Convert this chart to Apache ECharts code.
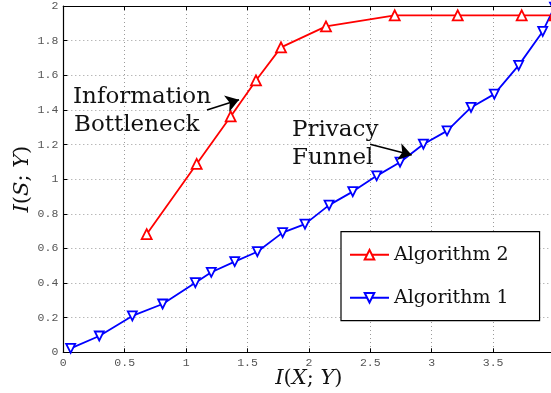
<!DOCTYPE html>
<html>
<head>
<meta charset="utf-8">
<script src="https://cdn.jsdelivr.net/npm/echarts@6/dist/echarts.min.js"></script>
<style>html,body{margin:0;padding:0;background:#fff;}#c{width:551px;height:393px;}</style>
</head>
<body>
<div id="c"></div>
<script>
// Data
var alg2X = [0.679, 1.086, 1.363, 1.569, 1.773, 2.139, 2.699, 3.212, 3.733, 4.0];
var alg2Y = [0.682, 1.088, 1.362, 1.570, 1.761, 1.882, 1.946, 1.946, 1.946, 1.946];
var alg1X = [0.060, 0.293, 0.562, 0.809, 1.075, 1.205, 1.396, 1.580, 1.786, 1.968, 2.164, 2.357, 2.552, 2.742, 2.932, 3.125, 3.320, 3.510, 3.708, 3.904, 4.0];
var alg1Y = [0.023, 0.094, 0.210, 0.279, 0.402, 0.462, 0.524, 0.581, 0.691, 0.740, 0.850, 0.928, 1.019, 1.098, 1.202, 1.279, 1.414, 1.491, 1.657, 1.853, 1.994];
var xTickLabels = ['0', '0.5', '1', '1.5', '2', '2.5', '3', '3.5', '4'];
var yTickLabels = ['0', '0.2', '0.4', '0.6', '0.8', '1', '1.2', '1.4', '1.6', '1.8', '2'];
var seriesNames = ['Algorithm 2', 'Algorithm 1'];
// annotation arrows (data coordinates): [fromX, fromY, toX, toY]
var arrowIB = [1.170, 1.400, 1.431, 1.458];
var arrowPF = [2.498, 1.202, 2.837, 1.140];

function zip(xs, ys) { return xs.map(function (x, i) { return [x, ys[i]]; }); }

var chart = echarts.init(document.getElementById('c'), null, { renderer: 'canvas' });
var serif = 'DejaVu Serif';
var mono = 'Liberation Mono';

function arrow(a) {
  return [{ coord: [a[0], a[1]] }, { coord: [a[2], a[3]] }];
}
var mathRich = {
  it: { fontFamily: serif, fontStyle: 'italic', fontSize: 21, color: '#111', lineHeight: 22 },
  up: { fontFamily: serif, fontSize: 21, color: '#111', lineHeight: 22 }
};

var option = {
  animation: false,
  backgroundColor: '#fff',
  grid: { left: 63.3, right: -3.5, top: 6, bottom: 40.7, containLabel: false, outerBoundsMode: 'none' },
  xAxis: [{
    type: 'value', min: 0, max: 4, interval: 0.5,
    name: '{it|I}{up|(}{it|X}{up|; }{it|Y}{up|)}', nameLocation: 'middle', nameGap: 15, nameMoveOverlap: false,
    nameTextStyle: { fontFamily: serif, fontSize: 21, color: '#111', lineHeight: 22, rich: mathRich },
    axisLine: { show: true, lineStyle: { color: '#000', width: 1.2 } },
    axisTick: { show: true, inside: true, length: 4, lineStyle: { color: '#000' } },
    axisLabel: { margin: 5, fontFamily: mono, fontSize: 11.5, color: '#555',
      formatter: function (v) { return xTickLabels[Math.round(v / 0.5)]; } },
    splitLine: { show: true, lineStyle: { color: '#9a9a9a', type: [1, 3], width: 1 } }
  }, {
    type: 'value', min: 0, max: 4, interval: 0.5, position: 'top',
    axisLine: { show: true, lineStyle: { color: '#000', width: 1.2 } },
    axisTick: { show: true, inside: true, length: 4, lineStyle: { color: '#000' } },
    axisLabel: { show: false }, splitLine: { show: false }
  }],
  yAxis: [{
    type: 'value', min: 0, max: 2, interval: 0.2,
    name: '{it|I}{up|(}{it|S}{up|; }{it|Y}{up|)}', nameLocation: 'middle', nameGap: 30, nameMoveOverlap: false,
    nameTextStyle: { fontFamily: serif, fontSize: 21, color: '#111', lineHeight: 22, rich: mathRich },
    axisLine: { show: true, lineStyle: { color: '#000', width: 1.2 } },
    axisTick: { show: true, inside: true, length: 4, lineStyle: { color: '#000' } },
    axisLabel: { margin: 5, fontFamily: mono, fontSize: 11.5, color: '#555',
      formatter: function (v) { return yTickLabels[Math.round(v / 0.2)]; } },
    splitLine: { show: true, lineStyle: { color: '#9a9a9a', type: [1, 3], width: 1 } }
  }],
  legend: {
    data: seriesNames,
    orient: 'vertical', left: 341, top: 231.7,
    padding: [13, 31, 13, 8], itemGap: 23,
    itemWidth: 39, itemHeight: 12,
    backgroundColor: '#fff', borderColor: '#000', borderWidth: 1.2, borderRadius: 0,
    textStyle: { fontFamily: serif, fontSize: 19, color: '#111', lineHeight: 20 }
  },
  series: [{
    name: seriesNames[0], type: 'line', data: zip(alg2X, alg2Y),
    symbol: 'triangle', symbolSize: 10,
    lineStyle: { color: '#ff0000', width: 1.8 },
    itemStyle: { color: '#ffffff', borderColor: '#ff0000', borderWidth: 1.8 },
    markLine: {
      silent: true, symbol: ['none', 'arrow'], symbolSize: 13,
      label: { show: false },
      lineStyle: { color: '#000', type: 'solid', width: 1.6 },
      data: [arrow(arrowIB), arrow(arrowPF)]
    },
    z: 3
  }, {
    name: seriesNames[1], type: 'line', data: zip(alg1X, alg1Y),
    symbol: 'triangle', symbolRotate: 180, symbolSize: 9,
    lineStyle: { color: '#0000ff', width: 1.8 },
    itemStyle: { color: '#ffffff', borderColor: '#0000ff', borderWidth: 1.8 },
    z: 2
  }],
  graphic: [
    { type: 'text', left: 73, top: 86, style: { text: 'Information', fontFamily: serif, fontSize: 23, fill: '#111' } },
    { type: 'text', left: 74, top: 114, style: { text: 'Bottleneck', fontFamily: serif, fontSize: 23, fill: '#111' } },
    { type: 'text', left: 292, top: 119, style: { text: 'Privacy', fontFamily: serif, fontSize: 23, fill: '#111' } },
    { type: 'text', left: 292, top: 147, style: { text: 'Funnel', fontFamily: serif, fontSize: 23, fill: '#111' } }
  ]
};
chart.setOption(option);
</script>
</body>
</html>
